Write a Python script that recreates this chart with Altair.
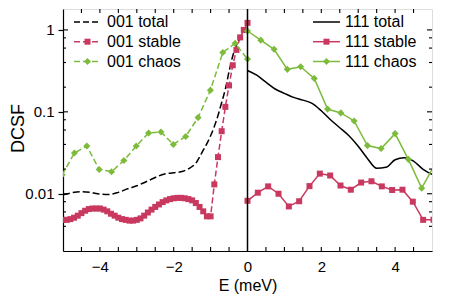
import altair as alt
import pandas as pd

# ---------------- data ----------------
tot001_E = [-5.0, -4.75, -4.5, -4.25, -4.0, -3.75, -3.5, -3.25, -3.0, -2.75, -2.5, -2.25,
            -2.0, -1.75, -1.5, -1.4, -1.3, -1.2, -1.1, -1.0, -0.9, -0.8, -0.7, -0.6,
            -0.5, -0.4, -0.3, -0.2, -0.1, 0.0]
tot001_D = [0.0097, 0.0103, 0.0106, 0.0104, 0.0099, 0.0098, 0.0104, 0.0115, 0.0125, 0.0140,
            0.0158, 0.0174, 0.0180, 0.0188, 0.0215, 0.0235, 0.028, 0.034, 0.041, 0.051,
            0.066, 0.090, 0.13, 0.19, 0.31, 0.48, 0.65, 0.80, 0.92, 1.0]

stab001_E = [-5.0, -4.9, -4.8, -4.7, -4.6, -4.5, -4.4, -4.3, -4.2, -4.1, -4.0, -3.9, -3.8,
             -3.7, -3.6, -3.5, -3.4, -3.3, -3.2, -3.1, -3.0, -2.9, -2.8, -2.7, -2.6, -2.5,
             -2.4, -2.3, -2.2, -2.1, -2.0, -1.9, -1.8, -1.7, -1.6, -1.5, -1.4, -1.3, -1.2,
             -1.1, -1.0, -0.9, -0.8, -0.7, -0.6, -0.5, -0.4, -0.3, -0.2, -0.1, 0.0]
stab001_D = [0.0048, 0.0048, 0.0049, 0.0051, 0.0054, 0.0058, 0.0062, 0.0065, 0.0066, 0.0066,
             0.0066, 0.0064, 0.0061, 0.0057, 0.0054, 0.0051, 0.0049, 0.0048, 0.0047, 0.0047,
             0.0048, 0.0050, 0.0054, 0.0059, 0.0064, 0.0069, 0.0074, 0.0079, 0.0083, 0.0086,
             0.0088, 0.0089, 0.0089, 0.0088, 0.0086, 0.0083, 0.0077, 0.0069, 0.0061, 0.0053,
             0.0053, 0.013, 0.028, 0.058, 0.115, 0.21, 0.37, 0.57, 0.81, 1.0, 1.22]

chaos001_E = [-5.025, -4.69, -4.355, -4.02, -3.685, -3.35, -3.015, -2.68, -2.345, -2.01,
              -1.675, -1.34, -1.005, -0.67, -0.335, 0.0]
chaos001_D = [0.017, 0.0314, 0.0383, 0.0198, 0.0186, 0.0254, 0.0383, 0.0552, 0.0568, 0.040,
              0.050, 0.085, 0.184, 0.53, 0.685, 0.44]

tot111_E = [0.0, 0.25, 0.5, 0.75, 1.0, 1.25, 1.5, 1.75, 2.0, 2.25, 2.5, 2.75, 3.0, 3.25,
            3.5, 3.75, 4.0, 4.25, 4.5, 4.75, 5.0]
tot111_D = [0.32, 0.28, 0.23, 0.19, 0.168, 0.150, 0.139, 0.127, 0.103, 0.080, 0.064, 0.051,
            0.038, 0.027, 0.0205, 0.021, 0.026, 0.0275, 0.025, 0.020, 0.0172]

stab111_E = [0.0, 0.28, 0.56, 0.84, 1.12, 1.40, 1.68, 1.96, 2.24, 2.52, 2.80, 3.08, 3.36,
             3.64, 3.92, 4.20, 4.48, 4.76, 5.04]
stab111_D = [0.0082, 0.0103, 0.0123, 0.0100, 0.0070, 0.0081, 0.0124, 0.0176, 0.0167, 0.0126,
             0.0112, 0.0137, 0.0142, 0.0123, 0.0111, 0.0112, 0.0080, 0.0048, 0.0048]

chaos111_E = [0.0, 0.36, 0.72, 1.08, 1.44, 1.81, 2.17, 2.53, 2.89, 3.25, 3.62, 4.0, 4.36,
              4.72, 5.08]
chaos111_D = [0.97, 0.75, 0.58, 0.33, 0.355, 0.256, 0.108, 0.097, 0.0774, 0.0387, 0.0356,
              0.0542, 0.0263, 0.0117, 0.023]

x_tick_vals = [-4.5, -4.0, -3.5, -3.0, -2.5, -2.0, -1.5, -1.0, -0.5, 0.5, 1.0, 1.5, 2.0,
               2.5, 3.0, 3.5, 4.0, 4.5]
y_major = [0.01, 0.1, 1.0]
y_minor = [0.004, 0.006, 0.008, 0.02, 0.04, 0.06, 0.08, 0.2, 0.4, 0.6, 0.8]

legend_left = ["001 total", "001 stable", "001 chaos"]
legend_right = ["111 total", "111 stable", "111 chaos"]

# ---------------- styling ----------------
W, H = 369, 242
CRIMSON = "#C8385F"
GREEN = "#7DBB3C"
BLACK = "#000000"
FONT = "Liberation Sans"
SQ, DI = 36, 50

xscale = alt.Scale(domain=[-5, 5], nice=False, zero=False)
yscale = alt.Scale(type="log", domain=[0.002, 1.8], nice=False)

xaxis = alt.Axis(values=[-4, -2, 0, 2, 4], ticks=False, grid=False, labelFontSize=15,
                 labelPadding=8, labelColor=BLACK, title="E (meV)", titleFontSize=16,
                 titleFontWeight="normal", titleColor=BLACK, titleY=34,
                 titleBaseline="middle", domainColor=BLACK, domainWidth=1.2, labelFont=FONT,
                 titleFont=FONT)
yaxis = alt.Axis(values=y_major, grid=False, tickSize=5, tickColor=BLACK, tickWidth=1.2,
                 labelExpr="datum.value >= 1 ? '1' : (datum.value >= 0.1 ? '0.1' : '0.01')",
                 labelFontSize=15, labelPadding=4, labelColor=BLACK, labelFont=FONT,
                 title="DCSF", titleFontSize=18, titleFontWeight="normal", titleColor=BLACK,
                 titleFont=FONT, titleX=-45, titleY=119, titleBaseline="middle",
                 titleAlign="center", domainColor=BLACK, domainWidth=1.2)

XE = alt.X("E:Q", scale=xscale, axis=xaxis)
YD = alt.Y("DCSF:Q", scale=yscale, axis=yaxis)


def frame(xs, ys):
    return pd.DataFrame({"E": xs, "DCSF": ys})


layers = []

# totals
layers.append(alt.Chart(frame(tot001_E, tot001_D)).mark_line(
    color=BLACK, strokeWidth=1.5, strokeDash=[7, 3], interpolate="monotone", clip=True
).encode(x=XE, y=YD))
layers.append(alt.Chart(frame(tot111_E, tot111_D)).mark_line(
    color=BLACK, strokeWidth=1.5, interpolate="monotone", clip=True
).encode(x=XE, y=YD))

# series with markers
series = [
    (stab001_E, stab001_D, CRIMSON, [6, 3], "square", SQ),
    (chaos001_E, chaos001_D, GREEN, [6, 3], "diamond", DI),
    (stab111_E, stab111_D, CRIMSON, None, "square", SQ),
    (chaos111_E, chaos111_D, GREEN, None, "diamond", DI),
]
for xs, ys, col, dash, shape, size in series:
    d = frame(xs, ys)
    lkw = dict(color=col, strokeWidth=1.5, clip=True)
    if dash:
        lkw["strokeDash"] = dash
    layers.append(alt.Chart(d).mark_line(**lkw).encode(x=XE, y=YD))
    layers.append(alt.Chart(d).mark_point(shape=shape, filled=True, size=size, color=col,
                                          opacity=1, clip=True).encode(x=XE, y=YD))

# vertical line at E = 0
layers.append(alt.Chart(pd.DataFrame({"E": [0.0]})).mark_rule(color=BLACK, strokeWidth=1.5)
              .encode(x=XE))

# inward ticks (same field names so that axes merge cleanly)
xt = pd.DataFrame({"E": x_tick_vals})
for y0, y1 in [(H, H - 4), (0, 4)]:
    layers.append(alt.Chart(xt).mark_rule(color=BLACK, strokeWidth=1.1).encode(
        x=XE, y=alt.value(y0), y2=alt.value(y1)))
for vals, ln in [(y_minor, 3), (y_major, 5)]:
    yt = pd.DataFrame({"DCSF": vals})
    for x0, x1 in [(0, ln), (W, W - ln)]:
        layers.append(alt.Chart(yt).mark_rule(color=BLACK, strokeWidth=1.1).encode(
            y=YD, x=alt.value(x0), x2=alt.value(x1)))

# custom legends
rows_y = [13, 32.7, 52.5]
styles = [(BLACK, None), (CRIMSON, "square"), (GREEN, "diamond")]
one = alt.Data(values=[{"a": 1}])
for labels, lx0, lx1, tx, dash in [(legend_left, 11, 38, 44, [6, 3]),
                                   (legend_right, 250, 277, 282, None)]:
    for lab, ry, (col, shp) in zip(labels, rows_y, styles):
        rkw = dict(color=col, strokeWidth=1.5)
        if dash:
            rkw["strokeDash"] = dash
        layers.append(alt.Chart(one).mark_rule(**rkw).encode(
            x=alt.value(lx0), x2=alt.value(lx1), y=alt.value(ry)))
        if shp:
            layers.append(alt.Chart(one).mark_point(
                shape=shp, filled=True, size=SQ if shp == "square" else DI, color=col,
                opacity=1).encode(x=alt.value((lx0 + lx1) / 2), y=alt.value(ry)))
        layers.append(alt.Chart(one).mark_text(
            text=lab, align="left", baseline="middle", fontSize=16, font=FONT, color=BLACK
        ).encode(x=alt.value(tx), y=alt.value(ry)))

chart = alt.layer(*layers).properties(
    width=W, height=H,
    autosize=alt.AutoSizeParams(type="none"),
    padding={"left": 55, "top": 1, "right": 23, "bottom": 45},
).configure_view(stroke=BLACK, strokeWidth=1.2).configure(background="white")

chart.save("out.html", embed_options={"renderer": "svg", "actions": False})
